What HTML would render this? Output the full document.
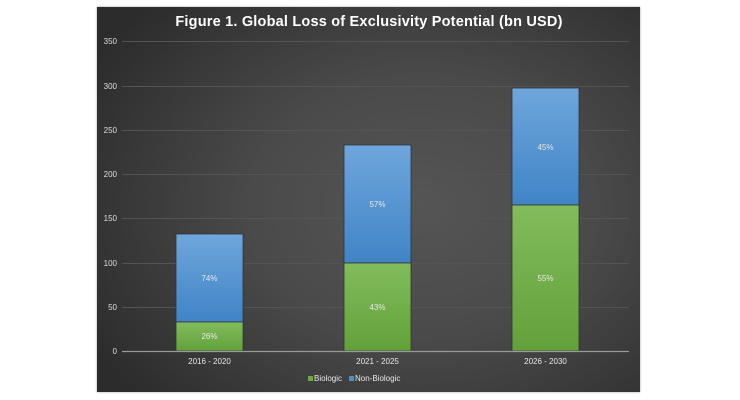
<!DOCTYPE html>
<html><head><meta charset="utf-8"><style>
body{margin:0;width:740px;height:400px;background:#fff;overflow:hidden;font-family:"Liberation Sans",sans-serif}
.p{position:absolute;left:97px;top:7px;width:543px;height:385px;background:radial-gradient(ellipse 70% 75% at 60% 52%,#555 0%,#4a4a4a 45%,#2c2c2c 100%);box-shadow:0 0 2px #999}
</style></head><body>
<div class="p"></div>
<svg width="740" height="400" style="position:absolute;left:0;top:0" font-family="Liberation Sans, sans-serif">
<defs>
<linearGradient id="b" x1="0" y1="0" x2="0" y2="1"><stop offset="0" stop-color="#6fa6dc"/><stop offset="1" stop-color="#4084c6"/></linearGradient>
<linearGradient id="g" x1="0" y1="0" x2="0" y2="1"><stop offset="0" stop-color="#82bc5c"/><stop offset="1" stop-color="#62a13a"/></linearGradient>
</defs>
<text x="369" y="26" fill="#fff" font-size="14.5" font-weight="bold" text-anchor="middle" letter-spacing="0.2">Figure 1. Global Loss of Exclusivity Potential (bn USD)</text>
<g stroke="#545454" stroke-width="1">
<line x1="122" x2="629" y1="41.5" y2="41.5"/><line x1="122" x2="629" y1="86.5" y2="86.5"/><line x1="122" x2="629" y1="130.5" y2="130.5"/><line x1="122" x2="629" y1="174.5" y2="174.5"/><line x1="122" x2="629" y1="218.5" y2="218.5"/><line x1="122" x2="629" y1="263.5" y2="263.5"/><line x1="122" x2="629" y1="307.5" y2="307.5"/>
</g>
<g fill="#ddd" font-size="8" text-anchor="end">
<text x="117" y="44">350</text><text x="117" y="89">300</text><text x="117" y="133">250</text><text x="117" y="177">200</text><text x="117" y="221">150</text><text x="117" y="266">100</text><text x="117" y="310">50</text><text x="117" y="354">0</text>
</g>
<g stroke="#333" stroke-width="0.8">
<rect x="176" y="234" width="67" height="88" fill="url(#b)"/><rect x="176" y="322" width="67" height="29" fill="url(#g)"/>
<rect x="344" y="145" width="67" height="118" fill="url(#b)"/><rect x="344" y="263" width="67" height="88" fill="url(#g)"/>
<rect x="512" y="88" width="67" height="117" fill="url(#b)"/><rect x="512" y="205" width="67" height="146" fill="url(#g)"/>
</g>
<line x1="122" x2="629" y1="351.5" y2="351.5" stroke="#999" stroke-width="1.2"/>
<g fill="#e8e8e8" font-size="8" text-anchor="middle">
<text x="209.5" y="281">74%</text><text x="209.5" y="339">26%</text>
<text x="377.5" y="207">57%</text><text x="377.5" y="310">43%</text>
<text x="545.5" y="150">45%</text><text x="545.5" y="281">55%</text>
</g>
<g fill="#e8e8e8" font-size="8" text-anchor="middle">
<text x="209.5" y="364">2016 - 2020</text><text x="377.5" y="364">2021 - 2025</text><text x="545.5" y="364">2026 - 2030</text>
</g>
<rect x="308" y="376" width="5" height="5" fill="#6aaa42"/>
<text x="314" y="381" fill="#e8e8e8" font-size="8">Biologic</text>
<rect x="349" y="376" width="5" height="5" fill="#4a8fd0"/>
<text x="355" y="381" fill="#e8e8e8" font-size="8">Non-Biologic</text>
</svg>
</body></html>
